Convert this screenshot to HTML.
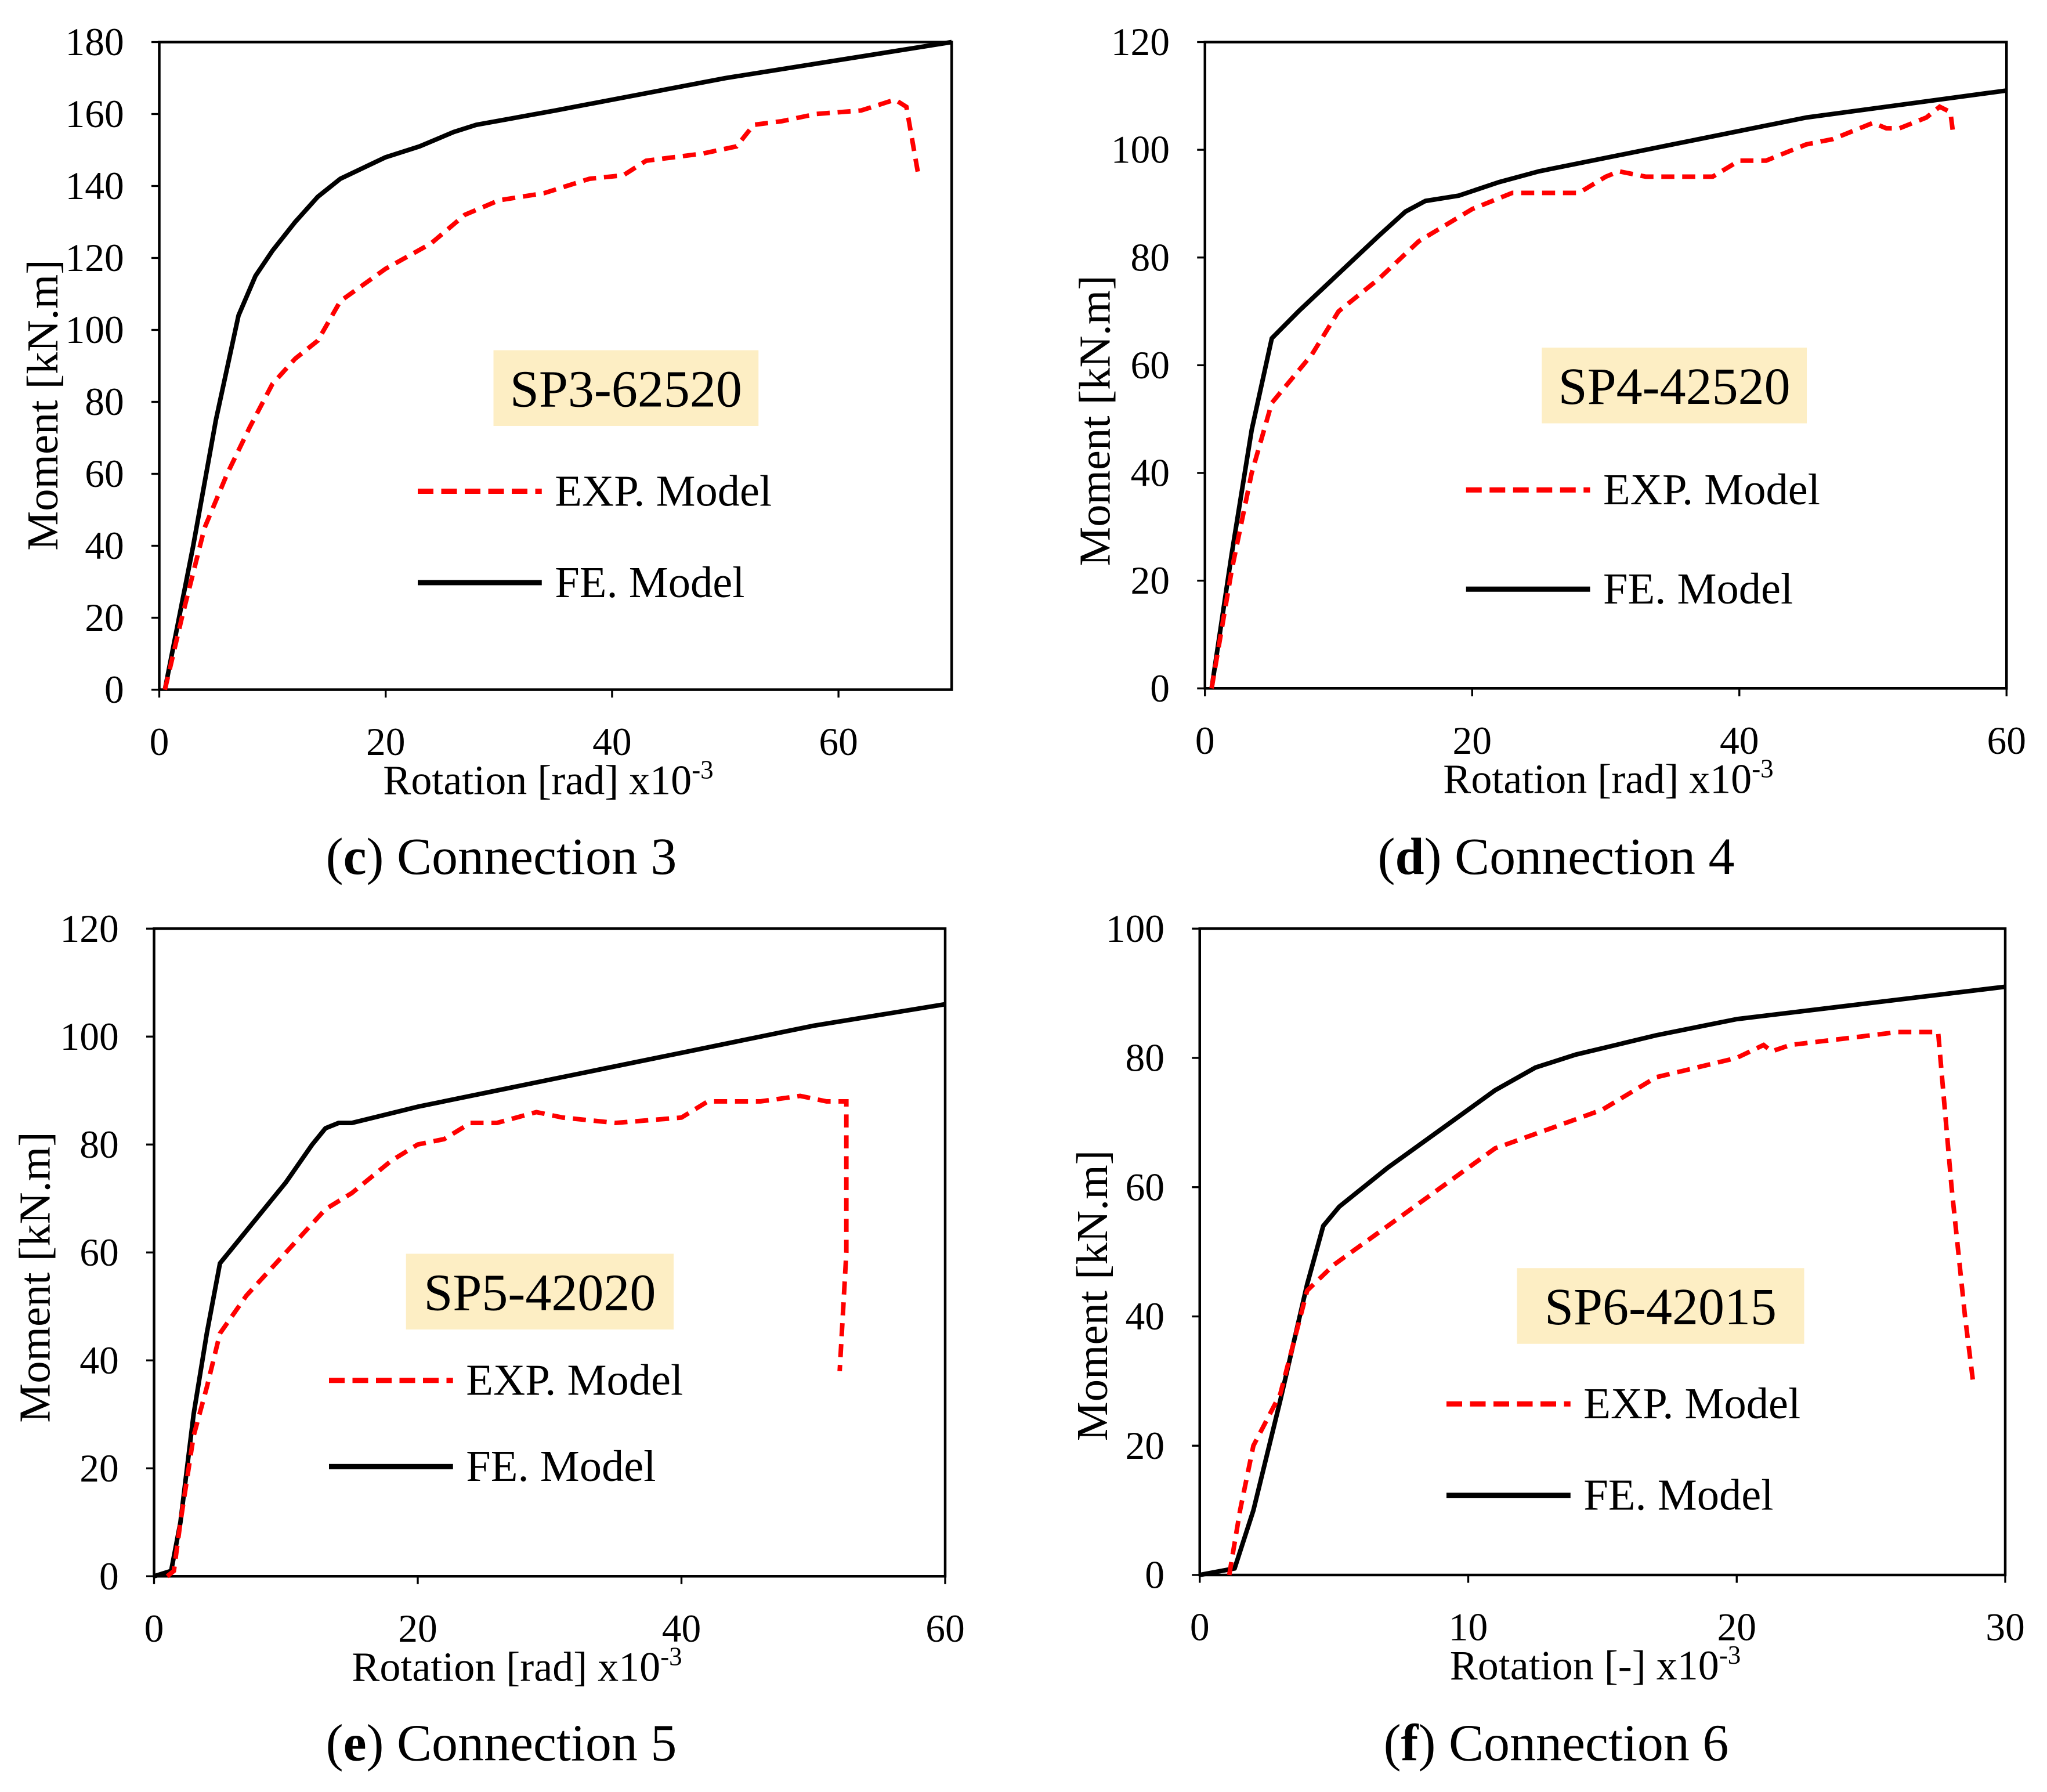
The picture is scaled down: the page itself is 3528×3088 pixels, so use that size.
<!DOCTYPE html>
<html><head><meta charset="utf-8"><style>
html,body{margin:0;padding:0;background:#fff;}
svg{display:block;font-family:"Liberation Serif",serif;}
</style></head><body>
<svg id="fig" width="3528" height="3088" viewBox="0 0 1568 1372" xmlns="http://www.w3.org/2000/svg"></svg>
<script>
// Panel c data
const cFE = [[0.5,0],[3,40],[5,75],[7,104],[8.5,115],[10,122],[12,130],[14,137],[16,142],[18,145],[20,148],[23,151],[26,155],[28,157],[35,161],[50,170],[70,180]];
const cEXP = [[0.5,0],[2,20],[4,45],[6,60],[8,73],[10,85],[12,92],[14,97],[16,108],[20,117],[24,124],[27,132],[30,136],[34,138],[38,142],[41,143],[43,147],[48,149],[51,151],[52.5,157],[55,158],[58,160],[62,161],[65,164],[66,162],[67,144]];
// Panel d data
const dFE = [[0.5,0],[2,25],[3.5,48],[5,65],[7,70],[10,77],[13,84],[15,88.5],[16.5,90.5],[19,91.5],[22,94],[25,96],[35,101],[45,106],[60,111]];
const dEXP = [[0.5,0],[2,22],[3.5,40],[5,53],[8,62],[10,70],[13,76],[16,83],[20,89],[23,92],[28,92],[30,95],[31,96],[33,95],[38,95],[40,98],[42,98],[44,100],[45,101],[47,102],[50,105],[51,104],[52,104],[54,106],[55,108],[55.8,107],[56,103]];
// Panel e data
const eFE = [[0,0],[1.3,1],[2,10],[3,30],[4,45],[5,58],[7,64],[10,73],[12,80],[13,83],[14,84],[15,84],[20,87],[30,92],[40,97],[50,102],[60,106]];
const eEXP = [[1,0],[1.5,1],[2,10],[3,26],[4,35],[5,45],[7,52],[10,60],[13,68],[15,71],[18,77],[20,80],[22,81],[24,84],[26,84],[29,86],[31,85],[35,84],[40,85],[42,88],[44,88],[46,88],[49,89],[51,88],[52.5,88],[52.5,60],[52,38]];
// Panel f data
const fFE = [[0,0],[1.3,1],[2,10],[3,27],[4,45],[4.6,54],[5.2,57],[7,63],[9,69],[11,75],[12.5,78.5],[14,80.5],[15,81.5],[17,83.5],[20,86],[25,88.5],[30,91]];
const fEXP = [[1.1,0],[1.5,10],[2,20],[2.5,24],[3,28],[3.5,36],[4,44],[5,48],[7,54],[9,60],[11,66],[13,69],[15,72],[17,77],[18,78],[20,80],[21,82],[21.3,81],[22,82],[24,83],[26,84],[27.5,84],[28,60],[28.5,40],[28.8,30]];
const cXTicks=[0,20,40,60], cYTicks=[0,20,40,60,80,100,120,140,160,180];
const dXTicks=[0,20,40,60], dYTicks=[0,20,40,60,80,100,120];
const eXTicks=[0,20,40,60], eYTicks=[0,20,40,60,80,100,120];
const fXTicks=[0,10,20,30], fYTicks=[0,20,40,60,80,100];

const NS="http://www.w3.org/2000/svg";
const svg=document.getElementById('fig');
function mk(tag,attrs,parent,text){const e=document.createElementNS(NS,tag);for(const k in attrs)e.setAttribute(k,attrs[k]);if(text!==undefined)e.textContent=text;(parent||svg).appendChild(e);return e;}

function panel(p){
  const g=mk('g',{});
  
  
  const sx=v=>p.x0+(v-0)/(p.xmax)*(p.x1-p.x0);
  const sy=v=>p.y1-(v)/(p.ymax)*(p.y1-p.y0);
  const box=mk('rect',{x:p.x0,y:p.y0,width:p.x1-p.x0,height:p.y1-p.y0,fill:'none',stroke:'#000','stroke-width':2},g);
  
  
  p.xt.forEach(t=>{const e=mk('text',{x:sx(t),y:p.y1+50,'text-anchor':'middle','font-size':30},g,String(t));
    
    mk('line',{x1:sx(t),x2:sx(t),y1:p.y1,y2:p.y1+6,stroke:'#000','stroke-width':1.5},g);});
  p.yt.forEach(t=>{const e=mk('text',{x:p.x0-27,y:sy(t)+10,'text-anchor':'end','font-size':30},g,String(t));
    
    mk('line',{x1:p.x0-6,x2:p.x0,y1:sy(t),y2:sy(t),stroke:'#000','stroke-width':1.5},g);});
  const xl=mk('text',{x:p.xlx,y:p.y1+80,'text-anchor':'middle','font-size':32},g);
  
  xl.appendChild(document.createTextNode(p.xlabel+' x10'));
  mk('tspan',{dy:-12,'font-size':20},xl,'-3');
  const yl=mk('text',{transform:`translate(${p.ylx},${p.yly}) rotate(-90)`,'text-anchor':'middle','font-size':34},g,'Moment [kN.m]');
  
  const path=a=>a.map((q,i)=>(i?'L':'M')+sx(q[0]).toFixed(1)+','+sy(q[1]).toFixed(1)).join(' ');
  const fe=mk('path',{d:path(p.fe),fill:'none',stroke:'#000','stroke-width':3.5,'stroke-linejoin':'round'},g);
  
  const ex=mk('path',{d:path(p.exp),fill:'none',stroke:'#ff0000','stroke-width':3.5,'stroke-dasharray':'10,6'},g);
  
  const ab=mk('rect',{x:p.ax,y:p.ay,width:p.aw,height:58,fill:'#fdeec4'},g);
  
  const at=mk('text',{x:p.ax+p.aw/2,y:p.ay+43,'text-anchor':'middle','font-size':40},g,p.name);
  
  const l1=mk('line',{x1:p.lx,x2:p.lx+95,y1:p.ly,y2:p.ly,stroke:'#ff0000','stroke-width':4,'stroke-dasharray':'12,6'},g);
  
  const t1=mk('text',{x:p.lx+105,y:p.ly+11,'font-size':34},g,'EXP. Model');
  
  const l2=mk('line',{x1:p.lx,x2:p.lx+95,y1:p.ly+p.lg,y2:p.ly+p.lg,stroke:'#000','stroke-width':4},g);
  
  const t2=mk('text',{x:p.lx+105,y:p.ly+p.lg+11,'font-size':34},g,'FE. Model');
  
  const cap=mk('text',{x:p.capx,y:p.capy,'text-anchor':'middle','font-size':40},g);
  
  cap.appendChild(document.createTextNode('('));
  mk('tspan',{'font-weight':'bold'},cap,p.id);
  cap.appendChild(document.createTextNode(') Connection '+p.num));
}
panel({id:'c',num:3,x0:122,x1:729,y0:32,y1:528,xmax:70,ymax:180,xt:cXTicks,yt:cYTicks,fe:cFE,exp:cEXP,xlabel:'Rotation [rad]',xlx:420,ylx:44,yly:310,name:'SP3-62520',ax:378,ay:268,aw:203,lx:320,ly:376,lg:70,capx:384,capy:669});
panel({id:'d',num:4,x0:923,x1:1537,y0:32,y1:527,xmax:60,ymax:120,xt:dXTicks,yt:dYTicks,fe:dFE,exp:dEXP,xlabel:'Rotation [rad]',xlx:1232,ylx:850,yly:322,name:'SP4-42520',ax:1181,ay:266,aw:203,lx:1123,ly:375,lg:76,capx:1192,capy:669});
panel({id:'e',num:5,x0:118,x1:724,y0:711,y1:1207,xmax:60,ymax:120,xt:eXTicks,yt:eYTicks,fe:eFE,exp:eEXP,xlabel:'Rotation [rad]',xlx:396,ylx:38,yly:978,name:'SP5-42020',ax:311,ay:960,aw:205,lx:252,ly:1057,lg:66,capx:384,capy:1348});
panel({id:'f',num:6,x0:919,x1:1536,y0:711,y1:1206,xmax:30,ymax:100,xt:fXTicks,yt:fYTicks,fe:fFE,exp:fEXP,xlabel:'Rotation [-]',xlx:1222,ylx:848,yly:992,name:'SP6-42015',ax:1162,ay:971,aw:220,lx:1108,ly:1075,lg:70,capx:1192,capy:1348});
</script>
</body></html>
